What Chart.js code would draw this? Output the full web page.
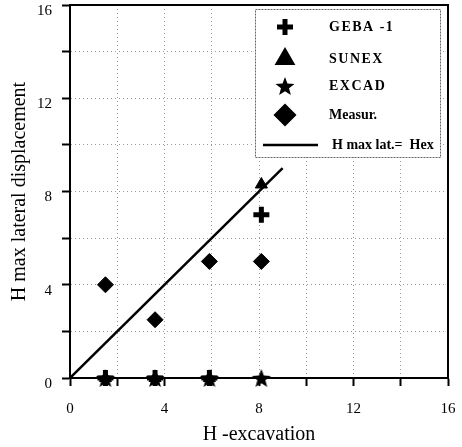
<!DOCTYPE html>
<html>
<head>
<meta charset="utf-8">
<script src="https://cdn.jsdelivr.net/npm/chart.js@4.4.1/dist/chart.umd.min.js"></script>
<style>
  html, body { margin: 0; padding: 0; background: #fff; }
  #wrap { width: 462px; height: 447px; position: relative; }
</style>
</head>
<body>
<div id="wrap"><canvas id="chart"></canvas></div>
<script>
// excavation depths and max lateral displacements per method
const hExc = [1.5, 3.6, 5.9, 8.1];
const gebaDisp = [0, 0, 0, 7];
const sunexDisp = [0, 0, 0, 8.3];
const excadDisp = [0, 0, 0, 0];
const measDisp = [4, 2.5, 5, 5];
// reference line Hmax lat. = Hex
const refX = [0, 9];
const refY = [0, 9];
const majorTicks = [0, 4, 8, 12, 16];
const labels = ['GEBA -1', 'SUNEX', 'EXCAD', 'Measur.', 'H max lat.=  Hex'];

const pts = (xs, ys) => xs.map((x, i) => ({ x: x, y: ys[i] }));

// filled five-point star used as point style
function starImage(r) {
  const c = document.createElement('canvas');
  c.width = c.height = r * 2 + 2;
  const g = c.getContext('2d');
  g.beginPath();
  for (let i = 0; i < 10; i++) {
    const rad = i % 2 === 0 ? r : r * 0.42;
    const a = -Math.PI / 2 + i * Math.PI / 5;
    const px = r + 1 + rad * Math.cos(a);
    const py = r + 1 + rad * Math.sin(a) + r * 0.1;
    if (i === 0) g.moveTo(px, py); else g.lineTo(px, py);
  }
  g.closePath();
  g.fillStyle = '#000';
  g.fill();
  return c;
}
const star = starImage(10);

const serif = '"Liberation Serif", "Times New Roman", serif';

// plot box in canvas pixels
const area = { left: 70, top: 5, right: 448, bottom: 378 };

// pin the plot area so tick-label overhang does not shrink it
const areaPlugin = {
  id: 'pinArea',
  afterLayout(chart) {
    const ca = chart.chartArea;
    Object.assign(ca, area);
    ca.width = area.right - area.left;
    ca.height = area.bottom - area.top;
    const x = chart.scales.x, y = chart.scales.y;
    x.left = area.left; x.right = area.right; x.width = ca.width;
    x.top = area.bottom; x.bottom = chart.height; x.height = chart.height - area.bottom;
    y.top = area.top; y.bottom = area.bottom; y.height = ca.height;
    y.left = 0; y.right = area.left; y.width = area.left;
    x.configure();
    y.configure();
  }
};

// frame around plot area + boxed legend inside the plot
const framePlugin = {
  id: 'frame',
  afterDraw(chart) {
    const { ctx, chartArea: a } = chart;
    ctx.save();
    ctx.strokeStyle = '#000';
    ctx.lineWidth = 2;
    ctx.strokeRect(a.left, a.top, a.right - a.left, a.bottom - a.top);

    // legend box
    const bx = 255, by = 9, bw = 185, bh = 148;
    ctx.fillStyle = '#fff';
    ctx.fillRect(bx, by, bw, bh);
    ctx.strokeStyle = '#666';
    ctx.lineWidth = 1;
    ctx.setLineDash([2, 1]);
    ctx.strokeRect(bx + 0.5, by + 0.5, bw, bh);
    ctx.setLineDash([]);

    const rows = [27, 59, 86, 115, 145];
    const iconX = 285, textX = 329;
    chart.data.datasets.forEach((ds, i) => {
      const y = rows[i];
      ctx.fillStyle = '#000';
      ctx.strokeStyle = '#000';
      if (ds.showLine) {
        ctx.lineWidth = 2.5;
        ctx.beginPath();
        ctx.moveTo(263, y);
        ctx.lineTo(318, y);
        ctx.stroke();
      } else if (ds.pointStyle === 'cross') {
        ctx.lineWidth = 5;
        ctx.beginPath();
        ctx.moveTo(iconX - 8, y); ctx.lineTo(iconX + 8, y);
        ctx.moveTo(iconX, y - 8); ctx.lineTo(iconX, y + 8);
        ctx.stroke();
      } else {
        Chart.helpers.drawPoint(ctx, {
          pointStyle: ds.pointStyle,
          radius: ds.pointRadius,
          borderWidth: ds.borderWidth,
          rotation: 0
        }, iconX, y);
      }
      ctx.fillStyle = '#000';
      ctx.font = 'bold 14px ' + serif;
      ctx.letterSpacing = i < 3 ? '1.5px' : '0px';
      ctx.textBaseline = 'middle';
      ctx.textAlign = 'left';
      ctx.fillText(ds.label, i === 4 ? 332 : textX, y);
    });
    ctx.restore();
  }
};

new Chart(document.getElementById('chart'), {
  type: 'scatter',
  data: {
    datasets: [
      { label: labels[0], data: pts(hExc, gebaDisp), pointStyle: 'cross', pointRadius: 8, borderWidth: 5,
        borderColor: '#000', backgroundColor: '#000', clip: false },
      { label: labels[1], data: pts(hExc, sunexDisp), pointStyle: 'triangle', pointRadius: 7, borderWidth: 1,
        borderColor: '#000', backgroundColor: '#000', clip: false },
      { label: labels[2], data: pts(hExc, excadDisp), pointStyle: star, pointRadius: 8, borderWidth: 1,
        borderColor: '#000', backgroundColor: '#000', clip: false },
      { label: labels[3], data: pts(hExc, measDisp), pointStyle: 'rectRot', pointRadius: 8, borderWidth: 1,
        borderColor: '#000', backgroundColor: '#000', clip: false },
      { label: labels[4], data: pts(refX, refY), showLine: true, pointRadius: 0, borderWidth: 2.5,
        borderColor: '#000', backgroundColor: '#000' }
    ]
  },
  options: {
    responsive: true,
    maintainAspectRatio: false,
    animation: false,
    plugins: { legend: { display: false }, tooltip: { enabled: false } },
    scales: {
      x: {
        type: 'linear', min: 0, max: 16,
        ticks: {
          stepSize: 2, color: '#000', padding: 14,
          font: { family: serif, size: 15 },
          callback: v => majorTicks.includes(v) ? v : ''
        },
        grid: { color: '#999', lineWidth: 1, tickLength: 8, tickColor: '#000', tickWidth: 2 },
        border: { color: '#000', width: 2, dash: [1, 3] },
        title: {
          display: true, text: 'H -excavation', color: '#000',
          font: { family: serif, size: 20 }, padding: { top: 0, bottom: 0 }
        }
      },
      y: {
        type: 'linear', min: 0, max: 16,
        ticks: {
          stepSize: 2, color: '#000', padding: 10, labelOffset: 6,
          font: { family: serif, size: 15 },
          callback: v => majorTicks.includes(v) ? v : ''
        },
        grid: { color: '#999', lineWidth: 1, tickLength: 8, tickColor: '#000', tickWidth: 2 },
        border: { color: '#000', width: 2, dash: [1, 3] },
        title: {
          display: true, text: 'H max lateral displacement', color: '#000',
          font: { family: serif, size: 20 }, padding: { top: 8, bottom: 0 }
        }
      }
    }
  },
  plugins: [areaPlugin, framePlugin]
});
</script>
</body>
</html>
